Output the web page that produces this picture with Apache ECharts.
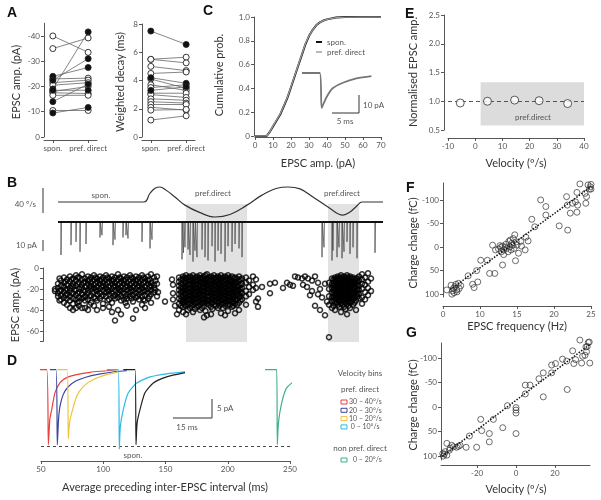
<!DOCTYPE html>
<html><head><meta charset="utf-8">
<script src="https://cdn.jsdelivr.net/npm/echarts@6/dist/echarts.min.js"></script>
<style>html,body{margin:0;padding:0;background:#fff}#c{width:601px;height:500px}</style>
</head><body><div id="c"></div>
<script>
// ---------- Panel A ----------
const aCats = ['spon.', 'pref. direct'];
const aAmpSpon = [-40, -35, -24, -22.5, -23, -21.5, -20.5, -19, -18.5, -18, -17.5, -16.5, -14, -10.5, -9.5];
const aAmpPref = [-33.5, -39.2, -27.5, -31, -23.3, -22.5, -21.5, -41.6, -18.5, -20, -17.2, -16.5, -20.9, -10.5, -11.7];
const aAmpFilled = [0, 0, 1, 1, 0, 0, 0, 1, 1, 0, 0, 0, 1, 0, 1];
const aDecaySpon = [7.5, 5.5, 5.5, 5.0, 4.5, 4.2, 4.1, 3.7, 3.5, 3.3, 3.1, 3.0, 2.7, 2.5, 2.3, 2.1, 1.9, 1.2];
const aDecayPref = [6.55, 5.65, 5.25, 4.7, 4.6, 3.8, 3.45, 3.3, 3.7, 3.55, 3.1, 2.8, 2.6, 2.4, 2.3, 1.9, 1.95, 1.5];
const aDecayFilled = [1, 0, 0, 0, 0, 1, 0, 0, 0, 1, 0, 0, 0, 0, 0, 0, 0, 0];

// ---------- Panel C ----------
const cAmp  = [0, 6.5, 8, 10, 12, 14, 16, 18, 20, 22, 24, 26, 28, 30, 32, 34, 36, 38, 40, 45, 50, 60, 70];
const cSpon = [0, 0, 0.03, 0.08, 0.13, 0.18, 0.25, 0.32, 0.41, 0.5, 0.59, 0.68, 0.77, 0.84, 0.89, 0.93, 0.955, 0.97, 0.98, 0.995, 1, 1, 1];
const cPref = [0, 0, 0.03, 0.085, 0.135, 0.185, 0.255, 0.325, 0.415, 0.505, 0.595, 0.685, 0.775, 0.842, 0.89, 0.93, 0.955, 0.97, 0.98, 0.995, 0.999, 1, 1];
const cInsetT = [0, 3.3, 3.65, 4.0, 4.6, 5.7, 7.6, 10.1, 12.9];
const cInsetI = [0, 0, -19.5, -17, -13.2, -8.5, -5.4, -3.0, -1.7];

// ---------- Panel E ----------
const eVel = [-5.5, 4.5, 14.5, 23.5, 34];
const eAmp = [0.97, 1.0, 1.02, 1.01, 0.96];
const ePrefRange = [2, 40];

// ---------- Panel F ----------
const fTickVals = [5, 10, 15, 20, 25];
const fTickLabels = ['0', '10', '15', '20', '25'];
const fPts = [[5.5,91],[6.1,81],[6.2,100],[6.4,88],[6.6,84],[6.85,91],[6.5,97],[6.75,79],[7.1,77],[7.2,88],[6.9,95],[6.3,93],[7.4,82],
  [8.4,61],[9.0,79],[9.2,86],[9.55,50],[9.7,74],[10.1,28],[11.0,28],[11.3,56],[11.7,-4],[12.0,56],[12.1,6],[12.8,1],[13.05,-2],
  [13.2,6],[12.9,10],[13.4,0],[13.05,38],[13.2,16],[13.6,3],[13.8,10],[14.05,-1],[14.3,-8],[14.4,-4],[14.5,-18],[14.6,3],[14.7,-26],
  [14.9,-11],[15.0,-4],[15.2,13],[14.8,29],[15.6,-2],[16.1,6],[16.2,-21],[16.5,-13],[17.0,-59],[17.4,-43],[18.2,-100],[18.9,-86],
  [18.9,-68],[20.7,-45],[21.85,-36],[21.7,-107],[21.8,-89],[22.5,-93],[22.9,-96],[23.2,-89],[23.1,-74],[23.1,-116],[23.5,-134],
  [24.2,-114],[24.3,-93],[24.6,-132],[24.8,-123],[24.9,-128],[25.0,-133],[25.0,-123],[24.4,-107],[12.5,4],[13.5,-6],[14.2,6],
  [13.9,-12],[12.7,-3],[14.1,-15],[15.5,-12],[22.2,-72]];
const fFit = [[6, 90], [25, -128]];

// ---------- Panel G ----------
const gTickVals = [-20, 0, 20];
const gPts = [[-37.6,95],[-37.3,100],[-36.4,91],[-35.5,74],[-35.5,98],[-34.2,88],[-33.8,84],[-33,78],[-32.1,81],[-29.6,80],[-28.7,78],
  [-25.6,82],[-23.9,59],[-20.2,82],[-18.1,25],[-17.6,48],[-13.7,54],[-13.7,71],[-11.6,25],[-6.8,42],[-4.4,-3],[0,1],[0,6],[0,12],
  [0,54],[4.8,-45],[4.8,-27],[7.2,-45],[11.8,-58],[14,-70],[14,-21],[18.3,-70],[18.3,-86],[20.3,-89],[23.9,-98],[26,-94],[26.3,-36],
  [29.1,-115],[29.7,-89],[30.6,-97],[32.8,-137],[33.7,-90],[34.2,-104],[35.4,-106],[35.9,-123],[36.2,-113],[37.1,-132],[37.6,-133],
  [37.9,-90],[36.6,-124],[-36.8,96],[-30.5,82]];
const gFit = [[-37.8, 100], [37.9, -128]];

// ---------- Panel B ----------
const bPrefPeriods = [[13.3, 19.4], [27.5, 30.6]];
const bVelT = [0.5, 9.1, 9.7, 10.2, 10.7, 11.3, 12.2, 13.2, 14.7, 16.2, 17.7, 19.4, 20.9, 22.4, 23.5, 24.7, 26.0, 27.5, 29.0, 29.7, 30.4, 30.9, 33.0];
const bVelV = [0, 0, 14, 22, 24, 19, 8, -5, -17, -24, -20, -5, 11, 22, 24, 21, 8, -8, -21, -16, -6, 0, 0];
const bTraceSpan = [0.5, 33.0];
const bSpikeT = [0.8,1.8,2.3,2.7,3.3,4.7,4.9,6.0,6.2,7.0,7.3,7.5,8.9,9.7,9.9,12.9,13.05,13.2,13.5,13.7,14.0,14.2,14.4,14.9,15.2,15.5,15.9,16.2,16.5,16.8,17.2,17.5,17.9,18.2,18.6,18.9,26.9,27.1,27.9,28.0,28.4,28.6,28.9,29.1,29.4,29.7,30.0,30.4,32.2];
const bSpikeA = [30,21,18,27,20,14,12,21,16,14,12,15,18,24,16,34,28,23,25,30,36,26,32,25,32,35,22,36,26,29,36,22,27,20,24,32,32,23,35,26,32,23,33,27,18,29,23,33,28];
// EPSC amplitude scatter: [time, amp1, amp2, ...]
const bScatterCols = [
  [0.2,-20,-22],[0.5,-15,-19,-24,-27],[0.8,-12,-17,-21,-26,-30],[1.1,-9,-14,-18,-23,-28,-33],[1.4,-11,-16,-20,-25,-29,-35],
  [1.7,-8,-13,-19,-22,-27,-31,-38],[2.0,-10,-15,-18,-24,-29,-34,-40],[2.3,-7,-12,-17,-21,-26,-30,-38],[2.6,-9,-14,-20,-23,-28,-32,-36],
  [2.9,-6,-11,-16,-19,-25,-29,-38],[3.2,-10,-13,-18,-22,-27,-31,-38],[3.5,-8,-12,-15,-21,-24,-30,-40],[3.8,-9,-14,-17,-20,-26,-33],
  [4.1,-7,-11,-16,-19,-23,-28,-36],[4.4,-10,-13,-18,-22,-25,-31,-40],[4.7,-8,-12,-15,-20,-24,-29],[5.0,-9,-14,-17,-21,-26,-34,-38],
  [5.3,-7,-11,-16,-19,-23,-27],[5.6,-10,-13,-18,-22,-25,-30,-37],[5.9,-8,-12,-15,-20,-24,-33,-42],[6.2,-9,-14,-17,-21,-26,-29,-50],
  [6.5,-6,-11,-16,-19,-23,-28,-40],[6.8,-10,-13,-18,-22,-27,-31,-44],[7.1,-8,-12,-15,-20,-24,-30],[7.4,-9,-14,-17,-21,-25,-29,-36],
  [7.7,-7,-11,-16,-19,-23,-27],[8.0,-10,-13,-18,-22,-26,-32,-48],[8.3,-8,-12,-15,-20,-24,-28,-40],[8.6,-9,-14,-17,-21,-25,-30],
  [8.9,-7,-11,-16,-19,-23,-27,-35],[9.2,-10,-13,-18,-22,-26,-31,-38],[9.5,-8,-12,-15,-20,-24,-29],[9.8,-6,-14,-17,-21,-25,-33],
  [10.1,-9,-16,-19,-23],[10.4,-8,-15,-27],
  [0.65,-10,-22,-31],[1.25,-13,-21,-26],[1.85,-11,-17,-24],[2.45,-9,-15,-24,-33],[3.05,-14,-21,-28],[3.65,-11,-18,-27,-35],
  [4.25,-9,-15,-21,-29],[4.85,-11,-18,-27],[5.45,-9,-14,-21,-31],[6.05,-11,-18,-27],[6.65,-9,-15,-21,-25],[7.25,-11,-18,-27,-33],
  [7.85,-9,-15,-21,-29],[8.45,-11,-18,-27],[9.05,-9,-14,-21,-30],[9.65,-11,-18,-27],[10.25,-12,-21],
  [10.5,-23],[11.2,-32],[11.9,-11],[12.0,-16,-24,-30],[12.2,-36],[12.4,-44],
  [12.6,-9,-13,-17,-21,-25,-29,-34,-40],[13.0,-8,-11,-15,-19,-22,-26,-30,-33,-37,-42],[13.3,-7,-10,-14,-18,-21,-25,-28,-32,-36,-44],
  [13.7,-8,-12,-15,-19,-23,-26,-30,-34,-38],[14.0,-7,-10,-14,-17,-21,-24,-28,-31,-35,-42],[14.4,-8,-11,-15,-19,-22,-26,-29,-33,-37],
  [14.7,-7,-10,-13,-17,-20,-24,-27,-31,-35,-40],[15.1,-8,-12,-15,-18,-22,-25,-29,-32,-36,-47],[15.4,-6,-10,-13,-17,-20,-24,-27,-31,-34,-45],
  [15.8,-8,-11,-15,-18,-22,-25,-29,-33,-37,-44],[16.1,-7,-10,-14,-17,-21,-24,-28,-31,-35],[16.5,-8,-12,-15,-19,-22,-26,-29,-33,-38],
  [16.8,-7,-10,-13,-17,-20,-24,-27,-31,-34,-43],[17.2,-8,-11,-15,-18,-22,-25,-29,-32,-36,-45],[17.5,-7,-10,-14,-17,-21,-24,-28,-31,-35,-41],
  [17.9,-8,-12,-15,-19,-22,-26,-29,-33,-37],[18.2,-9,-13,-16,-20,-23,-27,-30,-34,-43],[18.6,-8,-12,-17,-21,-25,-28,-33,-40],
  [18.9,-10,-15,-19,-24,-30],[19.3,-9,-14,-22,-27,-35],[19.6,-12,-18,-25],[20.0,-8,-16,-21],[20.3,-11,-19,-32],
  [12.8,-11,-15,-19,-23,-27,-31,-36],[13.15,-9,-13,-17,-20,-24,-28,-31,-35],[13.5,-9,-12,-16,-20,-23,-27,-30,-34,-40],
  [13.85,-9,-12,-16,-19,-22,-26,-29,-33,-36],[14.2,-9,-12,-16,-19,-23,-26,-30,-33,-39],[14.55,-9,-12,-16,-18,-21,-25,-28,-32,-36],
  [14.9,-9,-11,-14,-19,-22,-26,-30,-33,-38],[15.25,-7,-11,-14,-16,-19,-23,-26,-30,-33,-41],[15.6,-9,-12,-16,-20,-23,-27,-31,-35],
  [15.95,-9,-12,-16,-19,-23,-26,-30,-33,-39],[16.3,-9,-11,-13,-17,-20,-24,-27,-31,-36],[16.65,-9,-11,-14,-18,-21,-25,-28,-32,-36],
  [17.0,-9,-12,-16,-19,-23,-26,-30,-34,-38],[17.35,-9,-12,-16,-19,-23,-26,-30,-33],[17.7,-9,-11,-13,-17,-20,-24,-27,-31,-35],
  [18.05,-10,-14,-18,-21,-25,-28,-32,-36],[18.4,-10,-14,-18,-22,-26,-30,-35],[18.75,-11,-16,-20,-23,-27,-31],
  [20.5,-29,-37],[20.9,-18],[21.7,-15,-24],[22.2,-14],[23.0,-19],[23.4,-14],[23.7,-16],[24.0,-17],[24.2,-8],[24.5,-9],[24.9,-10],
  [25.0,-16],[25.2,-8],[25.4,-18],[25.5,-10],[25.7,-26],[25.9,-12,-22],[26.2,-8,-36],[26.5,-14,-25],[26.7,-20,-40],[26.9,-28],
  [27.2,-15,-45],[27.4,-32],
  [27.6,-14,-20,-27,-35,-66],[27.9,-10,-15,-19,-23,-28,-32,-38],[28.2,-9,-12,-16,-19,-22,-26,-29,-33,-40],
  [28.5,-8,-11,-14,-18,-21,-24,-27,-31,-35],[28.8,-7,-10,-13,-17,-20,-23,-27,-30,-34,-42],[29.1,-8,-11,-15,-18,-21,-25,-28,-32,-37],
  [29.4,-7,-10,-13,-17,-20,-24,-27,-31,-34,-44],[29.7,-8,-12,-15,-19,-22,-26,-29,-33,-38],[30.0,-9,-13,-16,-20,-23,-27,-30,-35],
  [30.3,-10,-14,-18,-22,-26,-31,-40],[30.6,-8,-12,-17,-21,-25,-29],[30.9,-6,-11,-15,-20,-28,-34],[31.2,-9,-16,-23,-30],
  [31.5,-5,-13,-19,-26],[31.8,-10,-22],
  [28.05,-11,-14,-17,-21,-24,-27,-31,-36],[28.35,-10,-13,-16,-20,-23,-26,-29,-33],[28.65,-9,-12,-15,-19,-22,-25,-29,-32,-37],
  [28.95,-9,-12,-16,-19,-23,-26,-30,-35],[29.25,-9,-12,-15,-19,-22,-26,-29,-33,-39],[29.55,-9,-11,-14,-18,-21,-25,-28,-32,-36],
  [29.85,-10,-14,-17,-21,-24,-28,-32],[30.15,-11,-15,-19,-24,-28,-33],[30.45,-10,-13,-16,-20,-24,-27]
];

// ---------- Panel D ----------
const dRed    = [[45.2,0],[54.6,0],[55.9,-19.7],[57.1,-13],[58.6,-10.5],[61.2,-6.1],[65.3,-3.4],[70.6,-2.1],[78.7,-1.3],[89.4,-0.7],[102.8,-0.3],[110.8,0]];
const dBlue   = [[57.2,0],[62.0,0],[63.1,-19.7],[64.1,-13],[65.3,-9.5],[67.9,-6.5],[71.9,-4.5],[77.9,-3],[85.9,-2],[96.6,-1.2],[110,-0.5],[119,-0.3]];
const dYellow = [[62.9,0],[71.1,0],[71.9,-18.2],[72.9,-14],[74.7,-11.3],[78.7,-7],[84.0,-4.4],[92.0,-2.6],[102.8,-1.3],[112.1,-0.6]];
const dCyan   = [[102.8,0],[112.1,0],[112.9,-20.9],[113.7,-15],[116.1,-10.5],[120.1,-6.1],[126.9,-3.5],[137.6,-1.9],[150.9,-1.1],[165.7,-0.6]];
const dBlack  = [[116.1,0],[125.5,0],[126.3,-19.7],[127.2,-14],[129.5,-10.5],[133.5,-6.1],[140.2,-3.5],[150.9,-1.9],[165.7,-0.8]];
const dGreen  = [[229.9,0],[239.3,0],[239.8,-19.7],[240.7,-14],[243.3,-8.8],[247.3,-4.8],[255.4,-2.6],[266.1,-1.3],[279.5,-0.6]];
const dPeakLevel = -20;
const dBins = ['30 – 40°/s', '20 – 30°/s', '10 – 20°/s', ' 0 – 10°/s'];
const dNonPrefBin = '0 – 20°/s';

// ================= build =================
const FONT = 'Lato, "Liberation Sans", sans-serif';
const AX = '#444';
function vAxis(gi, min, max, o) {
  o = o || {};
  const a = {
    type: 'value', gridIndex: gi, min: min, max: max,
    inverse: !!o.inverse, offset: o.offset || 0,
    axisLine: {show: true, onZero: false, lineStyle: {color: AX, width: 0.9}},
    axisTick: {show: true, length: 3, lineStyle: {color: AX, width: 0.9}},
    axisLabel: {show: true, fontSize: 8, color: '#555', fontFamily: FONT, margin: 4},
    splitLine: {show: false}
  };
  if (o.interval != null) a.interval = o.interval;
  if (o.ticks) { a.axisTick.customValues = o.ticks; a.axisLabel.customValues = o.labels || o.ticks; }
  if (o.fmt) a.axisLabel.formatter = o.fmt;
  return a;
}
function hAxis(gi, min, max) { return {type: 'value', gridIndex: gi, min: min, max: max, show: false}; }
function grid(l, t, w, h) { return {left: l, top: t, width: w, height: h, containLabel: false, outerBoundsMode: 'none'}; }

const grids = [
  grid(44, 23.3, 53, 113.7),   // 0 A left
  grid(142, 24, 53, 113),      // 1 A right
  grid(255, 17, 126, 119),     // 2 C
  grid(302, 73, 70, 36),       // 3 C inset
  grid(448, 15, 136, 115),     // 4 E
  grid(443, 183, 148, 114),    // 5 F
  grid(441, 343, 149, 117),    // 6 G
  grid(53, 204, 333, 138),     // 7 B background
  grid(53, 183.25, 333, 37.5), // 8 B velocity
  grid(53, 218.7, 333, 47.3),  // 9 B current
  grid(53, 268, 333, 73.5),    // 10 B scatter
  grid(41, 362, 249, 99)       // 11 D
];
const catFmt = v => aCats[Math.round(v) - 1];
const xAxes = [
  vAxis(0, 0.75, 2.25, {ticks: [1, 2], fmt: catFmt, offset: 3}),
  vAxis(1, 0.75, 2.25, {ticks: [1, 2], fmt: catFmt, offset: 3}),
  vAxis(2, 0, 70, {interval: 10, offset: 1}),
  hAxis(3, 0, 13),
  vAxis(4, -10, 40, {interval: 10, offset: 8}),
  vAxis(5, 5, 25, {ticks: fTickVals, fmt: v => fTickLabels[fTickVals.indexOf(v)], offset: 9}),
  vAxis(6, -38.5, 38, {ticks: gTickVals, offset: 5}),
  hAxis(7, 0, 33.3), hAxis(8, 0, 33.3), hAxis(9, 0, 33.3), hAxis(10, 0, 33.3),
  vAxis(11, 50, 250, {interval: 50})
];
const yAxes = [
  vAxis(0, -45, 0, {inverse: true, ticks: [-40, -30, -20, -10, 0]}),
  vAxis(1, 0, 8, {interval: 2}),
  vAxis(2, 0, 1, {interval: 0.2, offset: 1, fmt: v => v === 0 ? '0' : v.toFixed(1)}),
  hAxis(3, -20, 0),
  vAxis(4, 0.5, 2.5, {interval: 0.5, offset: 4, fmt: v => v.toFixed(1)}),
  vAxis(5, -136, 106, {inverse: true, ticks: [-100, -50, 0, 50, 100]}),
  vAxis(6, -131, 108, {inverse: true, ticks: [-100, -50, 0, 50, 100]}),
  hAxis(7, 0, 1), hAxis(8, -30, 30), hAxis(9, -40, 3),
  vAxis(10, -70, 0, {ticks: [-70, -60, -50, -40, -30, -20, -10, 0], labels: [-60, -40, -20, 0], offset: 10}),
  hAxis(11, -24, 2)
];

const series = [];
function pairSeries(gi, sp, pr, filled) {
  sp.forEach((v, i) => series.push({
    type: 'line', xAxisIndex: gi, yAxisIndex: gi, data: [[1, v], [2, pr[i]]],
    symbol: 'circle', symbolSize: 6, silent: true, z: filled[i] ? 4 : 3,
    lineStyle: {color: '#666', width: 0.8},
    itemStyle: {color: filled[i] ? '#111' : '#fff', borderColor: '#222', borderWidth: 0.9}
  }));
}
pairSeries(0, aAmpSpon, aAmpPref, aAmpFilled);
pairSeries(1, aDecaySpon, aDecayPref, aDecayFilled);

// C
series.push({type: 'line', name: 'spon.', xAxisIndex: 2, yAxisIndex: 2, data: cAmp.map((x, i) => [x, cSpon[i]]), symbol: 'none', lineStyle: {color: '#111', width: 2}});
series.push({type: 'line', name: 'pref. direct', xAxisIndex: 2, yAxisIndex: 2, data: cAmp.map((x, i) => [x, cPref[i]]), symbol: 'none', lineStyle: {color: '#9a9a9a', width: 1.3}});
series.push({type: 'line', xAxisIndex: 3, yAxisIndex: 3, data: cInsetT.map((t, i) => [t, cInsetI[i]]), symbol: 'none', smooth: 0.3, lineStyle: {color: '#777', width: 1.8}});

// E
series.push({type: 'line', xAxisIndex: 4, yAxisIndex: 4, data: [], z: 1, symbol: 'none',
  markArea: {silent: true, itemStyle: {color: '#dcdcdc'}, data: [[{xAxis: ePrefRange[0], yAxis: 0.58}, {xAxis: ePrefRange[1], yAxis: 1.33}]]},
  markLine: {silent: true, symbol: 'none', label: {show: false}, lineStyle: {color: '#444', type: [4, 3], width: 0.9}, data: [{yAxis: 1}]}});
series.push({type: 'scatter', xAxisIndex: 4, yAxisIndex: 4, z: 5, data: eVel.map((v, i) => [v, eAmp[i]]), symbol: 'circle', symbolSize: 8,
  itemStyle: {color: '#fff', borderColor: '#333', borderWidth: 1}});

// F, G
[[5, fPts, fFit], [6, gPts, gFit]].forEach(([gi, pts, fit]) => {
  series.push({type: 'scatter', xAxisIndex: gi, yAxisIndex: gi, data: pts, clip: false, symbol: 'circle', symbolSize: 6,
    itemStyle: {color: 'rgba(0,0,0,0)', borderColor: '#333', borderWidth: 0.9}});
  series.push({type: 'line', xAxisIndex: gi, yAxisIndex: gi, data: fit, symbol: 'none', z: 4, lineStyle: {color: '#111', width: 1.5, type: [1.5, 1.5]}});
});

// B
series.push({type: 'line', xAxisIndex: 7, yAxisIndex: 7, data: [], z: 0, symbol: 'none',
  markArea: {silent: true, itemStyle: {color: '#e2e2e2'}, data: bPrefPeriods.map(p => [{xAxis: p[0], yAxis: 0}, {xAxis: p[1], yAxis: 1}])}});
series.push({type: 'line', xAxisIndex: 8, yAxisIndex: 8, data: bVelT.map((t, i) => [t, bVelV[i]]), symbol: 'none', smooth: 0.4, lineStyle: {color: '#333', width: 1.2}});
const bCurrent = [[bTraceSpan[0], 0]];
bSpikeT.forEach((t, i) => bCurrent.push([t - 0.02, 0], [t, -bSpikeA[i]], [t + 0.05, 0]));
bCurrent.push([bTraceSpan[1], 0]);
series.push({type: 'line', xAxisIndex: 9, yAxisIndex: 9, data: bCurrent, symbol: 'none', lineStyle: {color: '#444', width: 0.7}});
series.push({type: 'line', xAxisIndex: 9, yAxisIndex: 9, data: [[bTraceSpan[0], 0], [bTraceSpan[1], 0]], symbol: 'none', lineStyle: {color: '#111', width: 1.8}});
const bScatter = [];
bScatterCols.forEach(c => { for (let k = 1; k < c.length; k++) bScatter.push([c[0], c[k]]); });
series.push({type: 'scatter', xAxisIndex: 10, yAxisIndex: 10, data: bScatter, clip: false, symbol: 'circle', symbolSize: 5,
  itemStyle: {color: 'rgba(0,0,0,0)', borderColor: '#000', borderWidth: 1.5}});

// D
const dColors = ['#e8413c', '#3b469c', '#efc43a', '#2bbbe6', '#222222', '#3fb08a'];
[dRed, dBlue, dYellow, dCyan, dBlack, dGreen].forEach((d, i) => series.push({
  type: 'line', xAxisIndex: 11, yAxisIndex: 11, data: d, clip: false, symbol: 'none', smooth: 0.2, z: 3 + i,
  lineStyle: {color: dColors[i], width: 1.2}
}));
series.push({type: 'line', xAxisIndex: 11, yAxisIndex: 11, data: [], symbol: 'none',
  markLine: {silent: true, symbol: 'none', label: {show: false}, lineStyle: {color: '#333', type: [3, 3], width: 0.9}, data: [{yAxis: dPeakLevel}]}});

// annotations
const G = [];
function T(x, y, s, o) {
  o = o || {};
  G.push({type: 'text', x: x, y: y, rotation: o.rot || 0, z: 100,
    style: {text: s, fill: o.fill || '#333', fontSize: o.size || 8, fontFamily: o.font || FONT, fontWeight: o.bold ? 'bold' : 'normal',
      align: o.align || 'left', verticalAlign: o.va || 'middle', textAlign: o.align || 'left', textVerticalAlign: o.va || 'middle'}});
}
function L(x1, y1, x2, y2, c, w) { G.push({type: 'line', z: 100, shape: {x1: x1, y1: y1, x2: x2, y2: y2}, style: {stroke: c || '#333', lineWidth: w || 1}}); }
const LET = {size: 14, bold: true, font: '"Liberation Sans", Arial, sans-serif', va: 'top', fill: '#111'};
T(7, 6, 'A', LET); T(7, 176, 'B', LET); T(203, 4, 'C', LET); T(7, 354, 'D', LET);
T(405, 7, 'E', LET); T(406, 181, 'F', LET); T(406, 326, 'G', LET);
const AT = {size: 11, align: 'center', fill: '#333'};
const ATR = Object.assign({rot: Math.PI / 2}, AT);
T(16, 82, 'EPSC amp. (pA)', ATR);
T(120, 82, 'Weighted decay (ms)', ATR);
T(219, 75, 'Cumulative prob.', ATR);
T(318, 163, 'EPSC amp. (pA)', AT);
T(413, 72, 'Normalised EPSC amp.', ATR);
T(516, 163, 'Velocity (º/s)', AT);
T(413, 243, 'Charge change (fC)', ATR);
T(517, 326, 'EPSC frequency (Hz)', AT);
T(413, 405, 'Charge change (fC)', ATR);
T(516, 489, 'Velocity (º/s)', AT);
T(15, 305, 'EPSC amp. (pA)', ATR);
T(165, 487, 'Average preceding inter-EPSC interval (ms)', AT);
const SM = {size: 8, fill: '#555'};
// B
T(101, 195, 'spon.', Object.assign({align: 'center'}, SM));
T(213, 193, 'pref.direct', Object.assign({align: 'center'}, SM));
T(342, 193, 'pref.direct', Object.assign({align: 'center'}, SM));
T(36, 204, '40 º/s', Object.assign({align: 'right'}, SM));
T(37, 245, '10 pA', Object.assign({align: 'right'}, SM));
L(43, 188, 43, 213, '#333', 1); L(43, 240, 43, 251, '#333', 1);
// C
L(316, 42, 322, 42, '#111', 2); L(316, 52, 322, 52, '#a0a0a0', 1.5);
T(327, 42, 'spon.', SM); T(327, 52, 'pref. direct', SM);
L(359, 95, 359, 113, '#333', 1); L(332, 113, 359, 113, '#333', 1);
T(363, 105, '10 pA', SM); T(345, 121, '5 ms', Object.assign({align: 'center'}, SM));
// E
T(533, 117, 'pref.direct', Object.assign({align: 'center'}, SM));
// D
T(133, 455, 'spon.', Object.assign({align: 'center'}, SM));
L(212, 399, 212, 418, '#333', 1); L(173, 418, 212, 418, '#333', 1);
T(217, 408, '5 pA', SM); T(187, 427, '15 ms', Object.assign({align: 'center'}, SM));
T(360, 373, 'Velocity bins', Object.assign({align: 'center'}, SM));
T(360, 389, 'pref. direct', Object.assign({align: 'center'}, SM));
dBins.forEach((s, i) => {
  G.push({type: 'rect', z: 100, shape: {x: 341, y: 400 + i * 8.3, width: 6, height: 4}, style: {fill: 'none', stroke: dColors[i], lineWidth: 1}});
  T(349, 402 + i * 8.3, s, {size: 7, fill: '#555'});
});
T(360, 448, 'non pref. direct', Object.assign({align: 'center'}, SM));
G.push({type: 'rect', z: 100, shape: {x: 341, y: 458, width: 6, height: 4}, style: {fill: 'none', stroke: dColors[5], lineWidth: 1}});
T(353, 460, dNonPrefBin, {size: 7, fill: '#555'});

const chart = echarts.init(document.getElementById('c'), null, {renderer: 'canvas'});
chart.setOption({
  animation: false, backgroundColor: '#fff',
  grid: grids, xAxis: xAxes, yAxis: yAxes, series: series, graphic: G
});
</script></body></html>
